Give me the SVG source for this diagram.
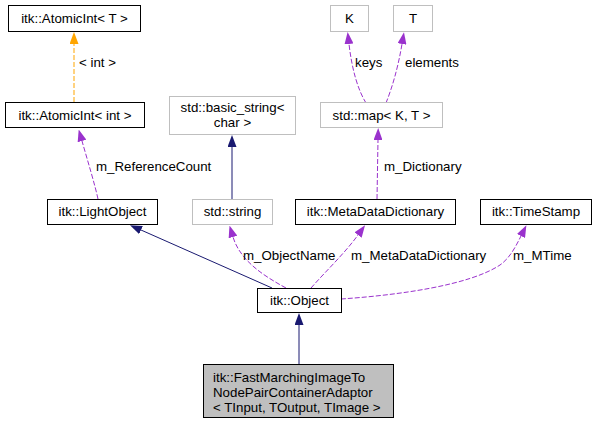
<svg xmlns="http://www.w3.org/2000/svg" width="597" height="425" viewBox="0 0 597 425">
<style>
text{font-family:"Liberation Sans",Arial,sans-serif;font-size:13.3px;fill:#000}
.c{text-anchor:middle}
.n{fill:#fff;stroke:#000;stroke-width:1}
.g{fill:#fff;stroke:#bfbfbf;stroke-width:1}
.s{fill:#bfbfbf;stroke:#000;stroke-width:1}
.e{fill:none;stroke-width:1}
.nv{stroke:#191970}
.pu{stroke:#9a32cd;stroke-dasharray:5,2}
.or{stroke:#ffa500;stroke-dasharray:5,2}
</style>
<defs>
<marker id="aN" markerUnits="userSpaceOnUse" viewBox="0 0 12 9" refX="0" refY="4.5" markerWidth="12" markerHeight="9" orient="auto"><path d="M0,0 L12,4.5 L0,9 z" fill="#191970"/></marker>
<marker id="aP" markerUnits="userSpaceOnUse" viewBox="0 0 12 9" refX="0" refY="4.5" markerWidth="12" markerHeight="9" orient="auto"><path d="M0,0 L12,4.5 L0,9 z" fill="#9a32cd"/></marker>
<marker id="aO" markerUnits="userSpaceOnUse" viewBox="0 0 12 9" refX="0" refY="4.5" markerWidth="12" markerHeight="9" orient="auto"><path d="M0,0 L12,4.5 L0,9 z" fill="#ffa500"/></marker>
</defs>
<rect width="597" height="425" fill="#fff"/>
<g id="edges">
<path class="e or" d="M74,102 L74,44" marker-end="url(#aO)"/>
<text x="79" y="67">&lt; int &gt;</text>
<path class="e pu" d="M98,199 C95,185 88,162 82,141" marker-end="url(#aP)"/>
<text x="96" y="171">m_ReferenceCount</text>
<path class="e nv" d="M232,199 L232,147" marker-end="url(#aN)"/>
<path class="e pu" d="M366,103 C358,90 352,70 349,44" marker-end="url(#aP)"/>
<text x="355" y="67">keys</text>
<path class="e pu" d="M386,103 C392,88 398,68 402,44" marker-end="url(#aP)"/>
<text x="405" y="67">elements</text>
<path class="e pu" d="M377,199 L378,140" marker-end="url(#aP)"/>
<text x="384" y="171">m_Dictionary</text>
<path class="e nv" d="M272,288 L141,230" marker-end="url(#aN)"/>
<path class="e pu" d="M286,288 C262,275 240,260 233,237" marker-end="url(#aP)"/>
<text x="243" y="260">m_ObjectName</text>
<path class="e pu" d="M311,288 C325,272 345,253 358,235" marker-end="url(#aP)"/>
<text x="351" y="260">m_MetaDataDictionary</text>
<path class="e pu" d="M341,299 C400,295 470,285 500,265 C510,258 516,246 521,236" marker-end="url(#aP)"/>
<text x="513" y="260">m_MTime</text>
<path class="e nv" d="M299,365 L299,325" marker-end="url(#aN)"/>
</g>
<g id="AtomicIntT"><rect class="n" x="8.5" y="5.5" width="132" height="26"/><text class="c" x="74.5" y="23">itk::AtomicInt&lt; T &gt;</text></g>
<g id="AtomicIntInt"><rect class="n" x="5.5" y="102.5" width="139" height="25"/><text class="c" x="75" y="120">itk::AtomicInt&lt; int &gt;</text></g>
<g id="basicString"><rect class="g" x="169.5" y="96.5" width="126" height="38"/><text class="c" x="232.5" y="112">std::basic_string&lt;</text><text class="c" x="232.5" y="127">char &gt;</text></g>
<g id="K"><rect class="g" x="330.5" y="5.5" width="38" height="26"/><text class="c" x="349.5" y="23">K</text></g>
<g id="T"><rect class="g" x="393.5" y="5.5" width="39" height="26"/><text class="c" x="413" y="23">T</text></g>
<g id="stdMap"><rect class="g" x="320.5" y="102.5" width="122" height="25"/><text class="c" x="381.5" y="120">std::map&lt; K, T &gt;</text></g>
<g id="LightObject"><rect class="n" x="47.5" y="199.5" width="110" height="25"/><text class="c" x="102.5" y="216">itk::LightObject</text></g>
<g id="stdString"><rect class="g" x="192.5" y="199.5" width="80" height="25"/><text class="c" x="232.5" y="216">std::string</text></g>
<g id="MetaDataDictionary"><rect class="n" x="295.5" y="199.5" width="160" height="25"/><text class="c" x="375.5" y="216">itk::MetaDataDictionary</text></g>
<g id="TimeStamp"><rect class="n" x="480.5" y="199.5" width="111" height="25"/><text class="c" x="536" y="216">itk::TimeStamp</text></g>
<g id="Object"><rect class="n" x="257.5" y="288.5" width="84" height="24"/><text class="c" x="299.5" y="305">itk::Object</text></g>
<g id="FastMarching"><rect class="s" x="203.5" y="364.5" width="190" height="53"/><text x="213" y="382">itk::FastMarchingImageTo</text><text x="213" y="397">NodePairContainerAdaptor</text><text x="213" y="412">&lt; TInput, TOutput, TImage &gt;</text></g>
</svg>
